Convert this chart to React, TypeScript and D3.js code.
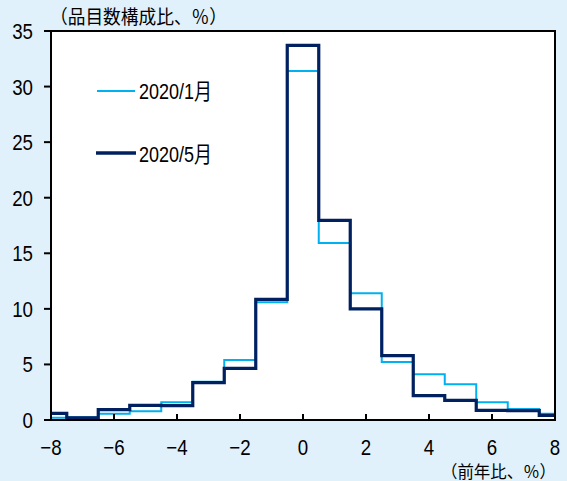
import React from "react";
import * as d3 from "d3";

const xValues = [-8, -7, -6, -5, -4, -3, -2, -1, 0, 1, 2, 3, 4, 5, 6, 7, 8];
const jan2020 = [0.2, 0.25, 0.57, 0.78, 1.6, 3.45, 5.4, 10.59, 31.4, 15.93, 11.4, 5.22, 4.11, 3.21, 1.59, 0.99, 0.57];
const may2020 = [0.6, 0.2, 0.93, 1.32, 1.3, 3.36, 4.65, 10.86, 33.7, 17.97, 10.0, 5.8, 2.19, 1.77, 0.87, 0.85, 0.42];
const xTicks = [-8, -6, -4, -2, 0, 2, 4, 6, 8];
const yTicks = [0, 5, 10, 15, 20, 25, 30, 35];
const seriesNames = ["2020/1月", "2020/5月"];
const yTitle = "（品目数構成比、％）";
const xTitle = "（前年比、％）";

const W = 567;
const H = 481;
const M = { left: 51, right: 555, top: 31, bottom: 420 };
const LIGHT = "#00b0f0";
const DARK = "#002060";
const BG = "#e0f1fc";
const FONT = "'Liberation Sans', Arial, 'Noto Sans CJK JP', sans-serif";
const CJK = "'Noto Sans CJK JP', sans-serif";
const SX = 0.85;

function CText(props: { x: number; y: number; anchor?: string; size?: number; children: React.ReactNode; len?: number }) {
  const { x, y, anchor = "start", size = 22, children, len } = props;
  return (
    <text
      transform={`translate(${x},${y}) scale(${SX},1)`}
      textAnchor={anchor}
      fontFamily={FONT}
      fontSize={size}
      fill="#000"
      textLength={len ? len / SX : undefined}
      lengthAdjust={len ? "spacingAndGlyphs" : undefined}
    >
      {children}
    </text>
  );
}

export default function App() {
  const x = d3.scaleLinear().domain([-8, 8]).range([M.left, M.right]);
  const y = d3.scaleLinear().domain([0, 35]).range([M.bottom, M.top]);
  const line = d3
    .line<number>()
    .x((_, i) => x(xValues[i]))
    .y((d) => y(d))
    .curve(d3.curveStep);

  return (
    <svg
      width={W}
      height={H}
      style={{ position: "absolute", left: 0, top: 0, display: "block" }}
    >
      <rect x={0} y={0} width={W} height={H} fill={BG} />
      <rect x={M.left} y={M.top} width={M.right - M.left} height={M.bottom - M.top} fill="#ffffff" />

      <path d={line(jan2020) || ""} fill="none" stroke={LIGHT} strokeWidth={2} />
      <path d={line(may2020) || ""} fill="none" stroke={DARK} strokeWidth={3.2} />

      <rect
        x={M.left}
        y={M.top}
        width={M.right - M.left}
        height={M.bottom - M.top}
        fill="none"
        stroke="#000"
        strokeWidth={2}
      />

      {yTicks.map((t) => (
        <g key={"y" + t}>
          <line x1={M.left - 7} x2={M.left} y1={y(t)} y2={y(t)} stroke="#000" strokeWidth={2} />
          <CText x={33} y={y(t) + 8} anchor="end">
            {t}
          </CText>
        </g>
      ))}

      {xTicks.map((t) => (
        <g key={"x" + t}>
          <line x1={x(t)} x2={x(t)} y1={M.bottom} y2={M.bottom - 6} stroke="#000" strokeWidth={2} />
          <CText x={x(t)} y={455} anchor="middle">
            {t < 0 ? "\u2212" + Math.abs(t) : String(t)}
          </CText>
        </g>
      ))}

      <line x1={97} x2={135} y1={91} y2={91} stroke={LIGHT} strokeWidth={2} />
      <CText x={139} y={99} len={73}>
        {seriesNames[0]}
      </CText>
      <line x1={96} x2={136} y1={153} y2={153} stroke={DARK} strokeWidth={3.5} />
      <CText x={139} y={162} len={73}>
        {seriesNames[1]}
      </CText>

      <text x={50} y={15} dominantBaseline="central" fontFamily={CJK} fontSize={19} fill="#000" textLength={177} lengthAdjust="spacingAndGlyphs">
        {yTitle}
      </text>
      <text x={441} y={470} dominantBaseline="central" fontFamily={CJK} fontSize={17} fill="#000" textLength={115} lengthAdjust="spacingAndGlyphs">
        {xTitle}
      </text>
    </svg>
  );
}
